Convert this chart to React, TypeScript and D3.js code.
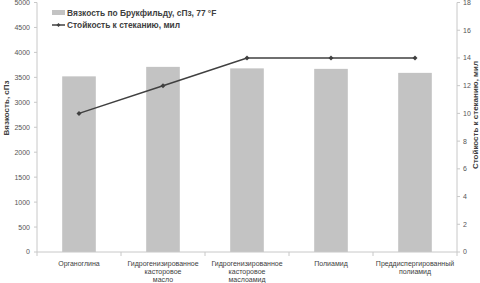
import React from "react";
import * as d3 from "d3";

const categories = [
  ["Органоглина"],
  ["Гидрогенизированное", "касторовое", "масло"],
  ["Гидрогенизированное", "касторовое", "маслоамид"],
  ["Полиамид"],
  ["Преддиспергированный", "полиамид"],
];
const viscosity = [3520, 3710, 3680, 3670, 3590];
const sagResistance = [10, 12, 14, 14, 14];
const leftTicks = [0, 500, 1000, 1500, 2000, 2500, 3000, 3500, 4000, 4500, 5000];
const rightTicks = [0, 2, 4, 6, 8, 10, 12, 14, 16, 18];
const legendLabels = ["Вязкость по Брукфильду, сПз, 77 °F", "Стойкость к стеканию, мил"];
const leftTitle = "Вязкость, сПз";
const rightTitle = "Стойкость к стеканию, мил";

const W = 480;
const H = 283;
const left = 37;
const right = 457;
const top = 2.5;
const bottom = 252;
const font = "'Liberation Sans', Arial, sans-serif";
const axisColor = "#c8c8c8";
const textColor = "#555555";

export default function App() {
  const keys = categories.map((_, i) => String(i));
  const x = d3.scaleBand<string>().domain(keys).range([left, right]).paddingInner(0.6).paddingOuter(0.3);
  const yL = d3.scaleLinear().domain([0, 5000]).range([bottom, top]);
  const yR = d3.scaleLinear().domain([0, 18]).range([bottom, top]);
  const cxOf = (i: number) => (x(keys[i]) as number) + x.bandwidth() / 2;
  const line = d3
    .line<number>()
    .x((_, i) => cxOf(i))
    .y((d) => yR(d));
  const boundaries = d3.range(categories.length + 1).map((i) => left + (i * (right - left)) / categories.length);

  return (
    <svg width={W} height={H} style={{ position: "absolute", left: 0, top: 0, background: "#fff" }} fontFamily={font}>
      <rect x={0} y={0} width={W} height={H} fill="#fff" />
      {viscosity.map((v, i) => (
        <rect key={i} x={x(keys[i])} y={yL(v)} width={x.bandwidth()} height={yL(0) - yL(v)} fill="#c3c3c3" />
      ))}
      <line x1={left} x2={left} y1={top} y2={bottom} stroke={axisColor} />
      {leftTicks.map((t) => (
        <g key={t}>
          <line x1={left - 3} x2={left} y1={yL(t)} y2={yL(t)} stroke={axisColor} />
          <text x={left - 7} y={yL(t)} dy="0.35em" textAnchor="end" fontSize={7} fill={textColor}>
            {t}
          </text>
        </g>
      ))}
      <line x1={right} x2={right} y1={top} y2={bottom} stroke={axisColor} />
      {rightTicks.map((t) => (
        <g key={t}>
          <line x1={right} x2={right + 3} y1={yR(t)} y2={yR(t)} stroke={axisColor} />
          <text x={right + 6} y={yR(t)} dy="0.35em" textAnchor="start" fontSize={7} fill={textColor}>
            {t}
          </text>
        </g>
      ))}
      <line x1={left} x2={right} y1={bottom} y2={bottom} stroke={axisColor} />
      {boundaries.map((bx, i) => (
        <line key={i} x1={bx} x2={bx} y1={bottom} y2={bottom + 4} stroke={axisColor} />
      ))}
      {categories.map((lines, i) => (
        <text key={i} x={cxOf(i)} textAnchor="middle" fontSize={7} fill="#404040">
          {lines.map((l, j) => (
            <tspan key={j} x={cxOf(i)} y={265.5 + j * 8}>
              {l}
            </tspan>
          ))}
        </text>
      ))}
      <path d={line(sagResistance) || ""} fill="none" stroke="#404040" strokeWidth={1.5} />
      {sagResistance.map((v, i) => {
        const cx = cxOf(i);
        const cy = yR(v);
        return <path key={i} d={`M${cx},${cy - 2.5}L${cx + 2.5},${cy}L${cx},${cy + 2.5}L${cx - 2.5},${cy}Z`} fill="#404040" />;
      })}
      <rect x={52} y={10} width={13} height={5} fill="#c3c3c3" />
      <text x={67} y={12.7} dy="0.35em" fontSize={8.4} fontWeight="bold" fill="#404040">
        {legendLabels[0]}
      </text>
      <line x1={52} x2={65} y1={25} y2={25} stroke="#404040" strokeWidth={1.5} />
      <path d="M58.5,23L60.5,25L58.5,27L56.5,25Z" fill="#404040" />
      <text x={67} y={25} dy="0.35em" fontSize={8.4} fontWeight="bold" fill="#404040">
        {legendLabels[1]}
      </text>
      <text transform="translate(9,108) rotate(-90)" textAnchor="middle" fontSize={8} fontWeight="bold" fill="#404040">
        {leftTitle}
      </text>
      <text transform="translate(478,115) rotate(-90)" textAnchor="middle" fontSize={8} fontWeight="bold" fill="#404040">
        {rightTitle}
      </text>
    </svg>
  );
}
